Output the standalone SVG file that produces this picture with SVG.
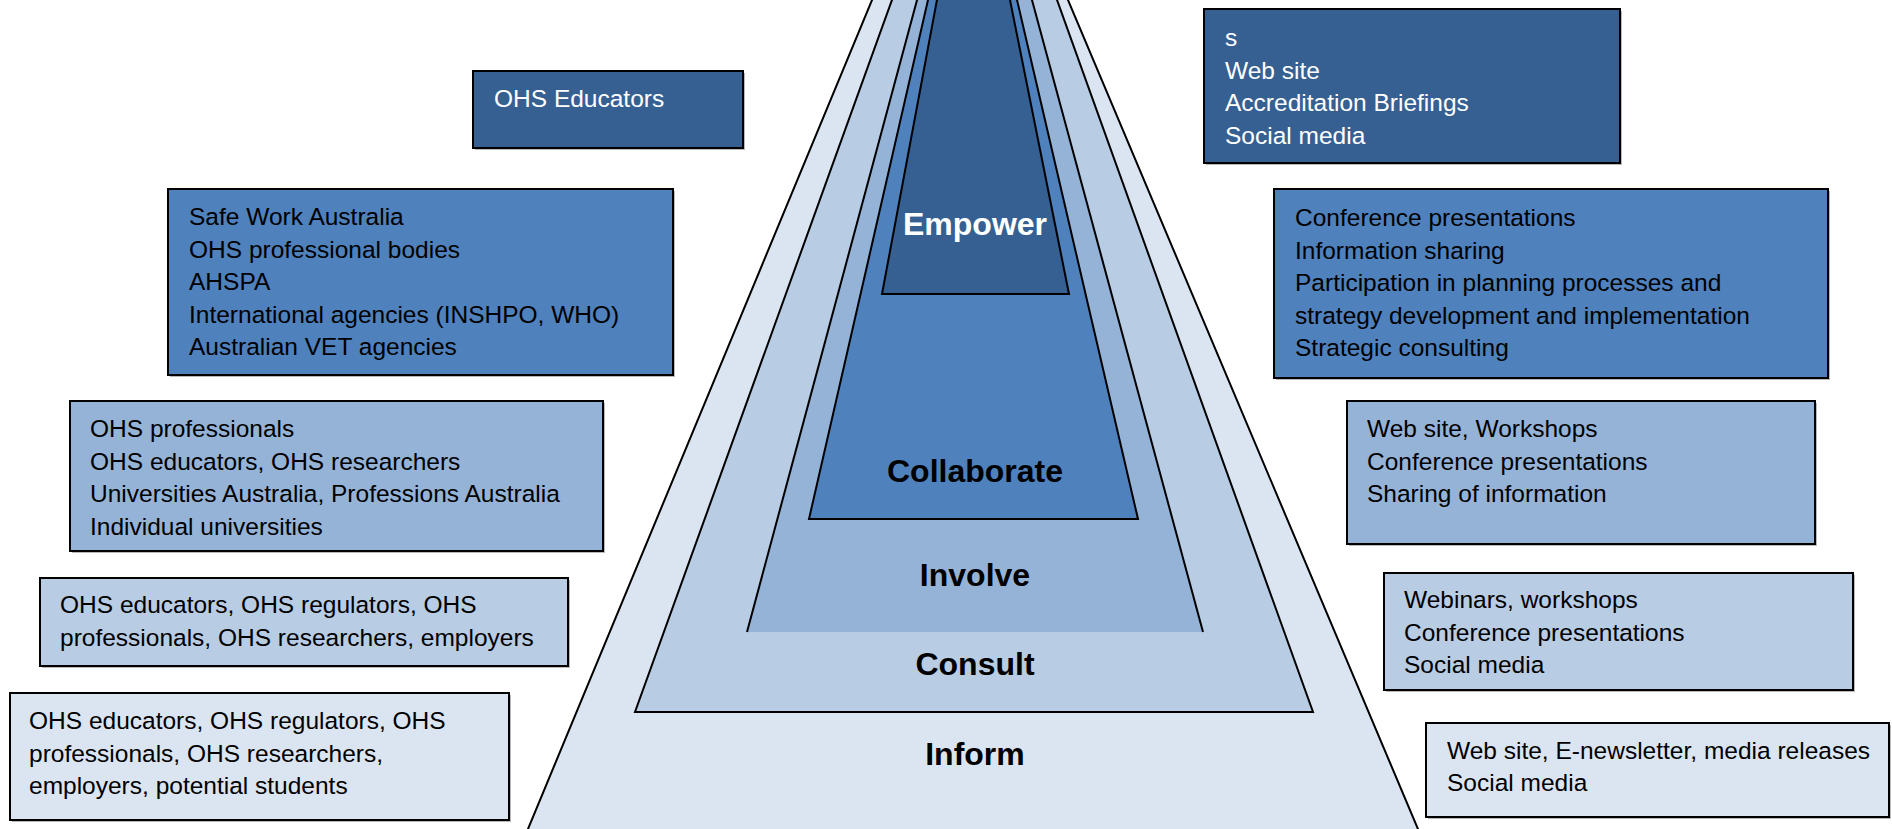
<svg xmlns="http://www.w3.org/2000/svg" width="1892" height="829" viewBox="0 0 1892 829">
<style>
.box{stroke:#000;stroke-width:2}
.shadow{fill:#7f7f7f;opacity:0.55}
.t{font-family:"Liberation Sans",Arial,sans-serif;font-size:24.5px;fill:#000}
.w{fill:#fff}
.lbl{font-family:"Liberation Sans",Arial,sans-serif;font-size:32px;font-weight:bold;fill:#000;text-anchor:middle}
.edge{stroke:#000;stroke-width:2;fill:none}
.c1{fill:#DBE5F1}.c2{fill:#B8CCE4}.c3{fill:#95B3D7}.c4{fill:#4F81BD}.c5{fill:#366092}
</style>
<rect width="1892" height="829" fill="#fff"/>

<g id="pyramid">
  <g id="layer-inform">
    <polygon class="c1" points="873.7,-4 1066.3,-4 1420.5,835 525.5,835" stroke="#000" stroke-width="2"/>
    <text class="lbl" x="975" y="765">Inform</text>
  </g>
  <g id="layer-consult">
    <polygon class="c2" points="893.4,-4 1055.6,-4 1313,712 635,712" stroke="#000" stroke-width="2"/>
    <text class="lbl" x="975" y="675">Consult</text>
  </g>
  <g id="layer-involve">
    <polygon class="c3" points="918.1,-4 1030.9,-4 1203,632 747,632"/>
    <polyline class="edge" points="918.1,-4 747,632"/>
    <polyline class="edge" points="1030.9,-4 1203,632"/>
    <text class="lbl" x="975" y="586">Involve</text>
  </g>
  <g id="layer-collaborate">
    <polygon class="c4" points="928.9,-4 1016.1,-4 1138,519 809,519" stroke="#000" stroke-width="2"/>
    <text class="lbl" x="975" y="482">Collaborate</text>
  </g>
  <g id="layer-empower">
    <polygon class="c5" points="937.7,-4 1009.2,-4 1069,294 882,294" stroke="#000" stroke-width="2"/>
    <text class="lbl" x="975" y="235" style="fill:#fff">Empower</text>
  </g>
</g>

<g id="connectors"></g>

<g id="left-empower">
  <rect class="shadow" x="475" y="73" width="270" height="77"/>
  <rect class="box c5" x="473" y="71" width="270" height="77"/>
  <text class="t w" x="494" y="107">OHS Educators</text>
</g>

<g id="left-collaborate">
  <rect class="shadow" x="170" y="191" width="505" height="186"/>
  <rect class="box c4" x="168" y="189" width="505" height="186"/>
  <text class="t" x="189" y="225">Safe Work Australia</text>
  <text class="t" x="189" y="257.5">OHS professional bodies</text>
  <text class="t" x="189" y="290">AHSPA</text>
  <text class="t" x="189" y="322.5">International agencies (INSHPO, WHO)</text>
  <text class="t" x="189" y="355">Australian VET agencies</text>
</g>

<g id="left-involve">
  <rect class="shadow" x="72" y="403" width="533" height="150"/>
  <rect class="box c3" x="70" y="401" width="533" height="150"/>
  <text class="t" x="90" y="437">OHS professionals</text>
  <text class="t" x="90" y="469.5">OHS educators, OHS researchers</text>
  <text class="t" x="90" y="502">Universities Australia, Professions Australia</text>
  <text class="t" x="90" y="534.5">Individual universities</text>
</g>

<g id="left-consult">
  <rect class="shadow" x="42" y="580" width="528" height="88"/>
  <rect class="box c2" x="40" y="578" width="528" height="88"/>
  <text class="t" x="60" y="613">OHS educators, OHS regulators, OHS</text>
  <text class="t" x="60" y="645.5">professionals, OHS researchers, employers</text>
</g>

<g id="left-inform">
  <rect class="shadow" x="12" y="695" width="499" height="127"/>
  <rect class="box c1" x="10" y="693" width="499" height="127"/>
  <text class="t" x="29" y="729">OHS educators, OHS regulators, OHS</text>
  <text class="t" x="29" y="761.5">professionals, OHS researchers,</text>
  <text class="t" x="29" y="794">employers, potential students</text>
</g>

<g id="right-empower">
  <rect class="shadow" x="1206" y="11" width="416" height="154"/>
  <rect class="box c5" x="1204" y="9" width="416" height="154"/>
  <text class="t w" x="1225" y="46">s</text>
  <text class="t w" x="1225" y="78.5">Web site</text>
  <text class="t w" x="1225" y="111">Accreditation Briefings</text>
  <text class="t w" x="1225" y="143.5">Social media</text>
</g>

<g id="right-collaborate">
  <rect class="shadow" x="1276" y="191" width="554" height="189"/>
  <rect class="box c4" x="1274" y="189" width="554" height="189"/>
  <text class="t" x="1295" y="226">Conference presentations</text>
  <text class="t" x="1295" y="258.5">Information sharing</text>
  <text class="t" x="1295" y="291">Participation in planning processes and</text>
  <text class="t" x="1295" y="323.5">strategy development and implementation</text>
  <text class="t" x="1295" y="356">Strategic consulting</text>
</g>

<g id="right-involve">
  <rect class="shadow" x="1349" y="403" width="468" height="143"/>
  <rect class="box c3" x="1347" y="401" width="468" height="143"/>
  <text class="t" x="1367" y="437">Web site, Workshops</text>
  <text class="t" x="1367" y="469.5">Conference presentations</text>
  <text class="t" x="1367" y="502">Sharing of information</text>
</g>

<g id="right-consult">
  <rect class="shadow" x="1386" y="575" width="469" height="117"/>
  <rect class="box c2" x="1384" y="573" width="469" height="117"/>
  <text class="t" x="1404" y="608">Webinars, workshops</text>
  <text class="t" x="1404" y="640.5">Conference presentations</text>
  <text class="t" x="1404" y="673">Social media</text>
</g>

<g id="right-inform">
  <rect class="shadow" x="1428" y="725" width="463" height="94"/>
  <rect class="box c1" x="1426" y="723" width="463" height="94"/>
  <text class="t" x="1447" y="759">Web site, E-newsletter, media releases</text>
  <text class="t" x="1447" y="791">Social media</text>
</g>
</svg>
